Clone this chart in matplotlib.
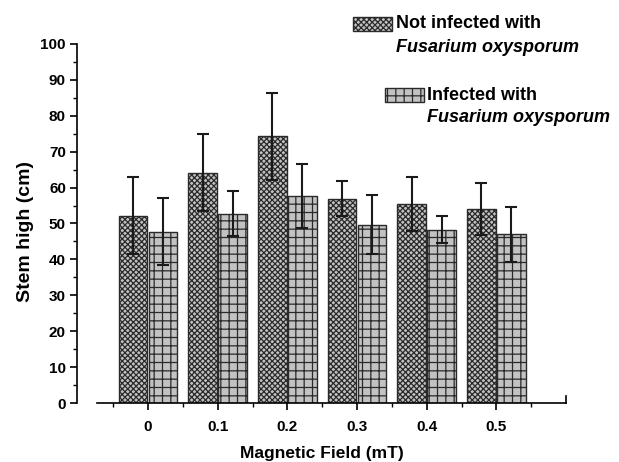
import matplotlib
matplotlib.use("Agg")
import matplotlib.pyplot as plt
import numpy as np
from matplotlib.patches import Rectangle

plt.rcParams['font.family'] = ['Liberation Sans', 'DejaVu Sans']
plt.rcParams['font.weight'] = 'bold'
plt.rcParams['hatch.linewidth'] = 0.9

# stem height per magnetic field level
fields = ['0', '0.1', '0.2', '0.3', '0.4', '0.5']
not_infected = [52.2, 64.1, 74.3, 56.9, 55.4, 54.0]
not_infected_err = [10.7, 10.7, 12.1, 4.9, 7.6, 7.3]
infected = [47.7, 52.7, 57.6, 49.7, 48.3, 47.0]
infected_err = [9.3, 6.3, 8.9, 8.3, 3.7, 7.6]

fig = plt.figure(figsize=(6.19, 4.62), dpi=100)
ax = fig.add_axes([0.1244, 0.1277, 0.79, 0.7771])

x = np.arange(len(fields))
w = 0.41
face = '#c2c2c2'
edge = '#2a2a2a'
cross = 'xxxxxx'
grid = '++'

ax.bar(x - w / 2 - 0.01, not_infected, w, color=face, edgecolor=edge,
       hatch=cross, linewidth=1.0, zorder=2)
ax.bar(x + w / 2 + 0.01, infected, w, color=face, edgecolor=edge,
       hatch=grid, linewidth=1.0, zorder=2)
ax.errorbar(x - w / 2 - 0.01, not_infected, yerr=not_infected_err, fmt='none',
            ecolor='#1a1a1a', elinewidth=1.5, capsize=4.5, capthick=1.5, zorder=3)
ax.errorbar(x + w / 2 + 0.01, infected, yerr=infected_err, fmt='none',
            ecolor='#1a1a1a', elinewidth=1.5, capsize=4.5, capthick=1.5, zorder=3)

ax.set_xlim(-1.02, 6.0)
ax.set_ylim(0, 100)

for s in ['top', 'right']:
    ax.spines[s].set_visible(False)
ax.spines['left'].set_linewidth(1.2)
ax.spines['bottom'].set_linewidth(1.2)
ax.spines['bottom'].set_bounds(-0.74, 6.0)
# small upward tick closing the x axis
ax.plot([6.0, 6.0], [0, 2.0], color='black', lw=1.2, clip_on=False)

ax.set_xticks(x)
ax.set_xticklabels(fields)
ax.set_xticks(np.arange(-0.5, 6.0, 1.0), minor=True)
ax.set_yticks(np.arange(0, 101, 10))
ax.set_yticks(np.arange(0, 101, 5), minor=True)
ax.tick_params(axis='both', which='major', labelsize=11, width=1.2, length=5)
ax.tick_params(axis='both', which='minor', width=1.0, length=3)
ax.tick_params(axis='x', which='major', pad=7)
ax.tick_params(axis='y', which='major', pad=3)

ax.set_xlabel('Magnetic Field (mT)', fontsize=12.5, fontweight='bold', labelpad=9)
ax.set_ylabel('Stem high (cm)', fontsize=14, fontweight='bold')
ax.yaxis.set_label_coords(-0.088, 0.479)

# legend drawn by hand: two entries with a two-line label each
W, H = 619, 462
def legend_entry(px, py, hatch, line1, line2, tx, ty1, ty2):
    fig.patches.append(Rectangle((px / W, 1 - (py + 14) / H), 39 / W, 14 / H,
                                 transform=fig.transFigure, facecolor=face,
                                 edgecolor=edge, hatch=hatch, linewidth=1.0))
    fig.text(tx / W, 1 - ty1 / H, line1, fontsize=13, fontweight='bold',
             va='center', ha='left')
    fig.text(tx / W, 1 - ty2 / H, line2, fontsize=13, fontweight='bold',
             style='italic', va='center', ha='left')

legend_entry(353, 17, cross, 'Not infected with', 'Fusarium oxysporum', 396, 24, 47)
legend_entry(385, 88, grid, 'Infected with', 'Fusarium oxysporum', 427, 95, 118)

fig.savefig('out.png', dpi=100)
